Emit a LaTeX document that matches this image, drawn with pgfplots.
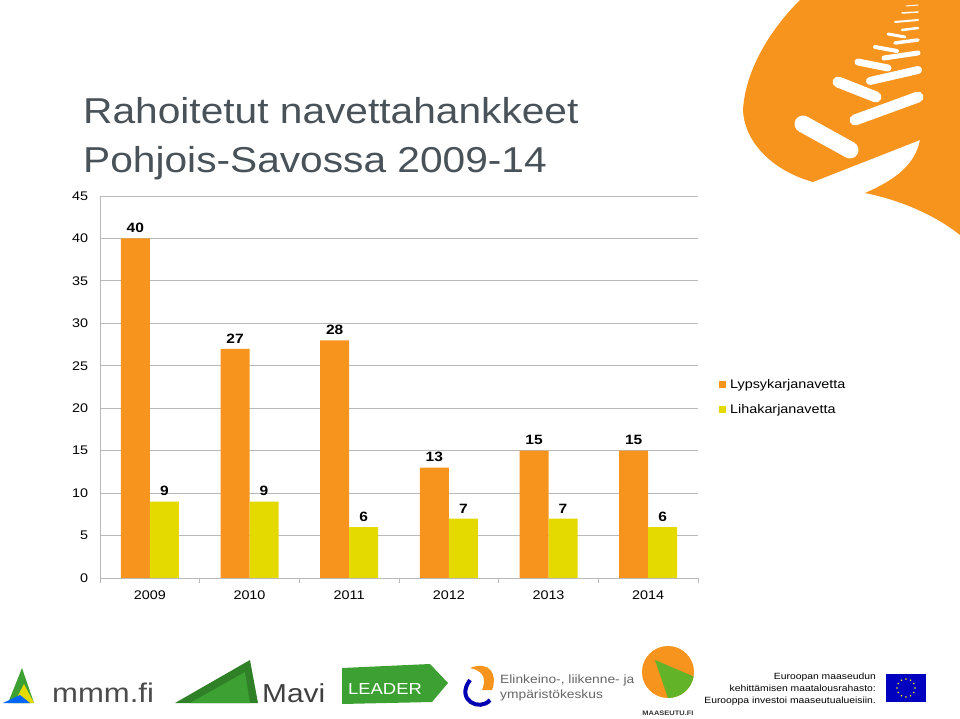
\documentclass[border=0pt]{standalone}
\usepackage{fontspec}
\setmainfont{Liberation Sans}[FakeStretch=1.15]
\newfontfamily\titlefont{Liberation Sans}[FakeStretch=1.13]
\usepackage{pgfplots}
\pgfplotsset{compat=1.18}
\definecolor{orng}{RGB}{247,148,30}
\definecolor{yel}{RGB}{228,218,0}
\definecolor{gridc}{RGB}{185,185,185}
\definecolor{titlec}{RGB}{72,82,88}
\definecolor{logog}{RGB}{60,160,50}
\begin{document}
\begin{tikzpicture}[x=1pt,y=1pt]
\path[use as bounding box] (0,0) rectangle (960,718);
% decorative swoosh (top right)
\begin{scope}[yshift=718pt,y=-1pt]
\fill[orng] (800,0) .. controls (765,35) and (745,75) .. (743,110)
  .. controls (744,140) and (770,170) .. (813,182)
  -- (920,140) .. controls (915,165) and (895,180) .. (865,193)
  .. controls (900,200) and (935,215) .. (960,235) -- (960,0) -- cycle;
\draw[white,line cap=round,line width=17pt] (803,124) -- (850,150);
\draw[white,line cap=round,line width=11pt] (855,120) -- (918,97);
\draw[white,line cap=round,line width=11pt] (838,82) -- (876,97);
\draw[white,line cap=round,line width=8pt] (870,81) -- (918,70);
\draw[white,line cap=round,line width=7pt] (858,62) -- (888,68);
\draw[white,line cap=round,line width=5pt] (884,58) -- (918,53);
\draw[white,line cap=round,line width=4pt] (875,47) -- (897,51);
\draw[white,line cap=round,line width=3.5pt] (895,43) -- (918,40);
\draw[white,line cap=round,line width=3pt] (888,34) -- (905,37);
\draw[white,line cap=round,line width=2.5pt] (902,30) -- (918,28);
\draw[white,line cap=round,line width=2pt] (895,22) -- (918,20);
\draw[white,line cap=round,line width=1.5pt] (902,13) -- (918,12);
\draw[white,line cap=round,line width=1pt] (906,6) -- (918,5);
% title
\node[anchor=base west,text=titlec,font=\titlefont\fontsize{36}{36}\selectfont,inner sep=0pt] at (83,124) {Rahoitetut navettahankkeet};
\node[anchor=base west,text=titlec,font=\titlefont\fontsize{36}{36}\selectfont,inner sep=0pt] at (83,173) {Pohjois-Savossa 2009-14};
% logos (approximate)
\fill[logog] (8,703) -- (22,668) -- (34,703) -- cycle;
\fill[yel] (14,703) -- (24,684) -- (34,703) -- cycle;
\fill[blue!60!cyan] (3,703) -- (20,695) -- (30,703) -- cycle;
\node[anchor=base west,text=black!70,font=\fontsize{27}{27}\selectfont,inner sep=0pt] at (52,702) {mmm.fi};
\fill[logog!80!black] (175,703) -- (250,660) -- (258,703) -- cycle;
\fill[logog] (190,703) -- (245,672) -- (250,703) -- cycle;
\node[anchor=base west,text=black!75,font=\fontsize{26}{26}\selectfont,inner sep=0pt] at (262,702) {Mavi};
\fill[logog] (342,668) -- (430,664) -- (448,683) -- (432,702) -- (342,704) -- cycle;
\node[anchor=base west,text=white,font=\fontsize{16}{16}\selectfont,inner sep=0pt] at (348,694) {LEADER};
\fill[orng] (470,668) .. controls (490,660) and (498,675) .. (492,690) -- (482,690) .. controls (488,676) and (480,670) .. cycle;
\draw[blue!70!black,line width=4pt] (470,680) .. controls (455,700) and (480,712) .. (490,700);
\node[anchor=base west,text=black!60,font=\fontsize{12}{12}\selectfont,inner sep=0pt] at (500,683) {Elinkeino-, liikenne- ja};
\node[anchor=base west,text=black!60,font=\fontsize{12}{12}\selectfont,inner sep=0pt] at (500,698) {ympäristökeskus};
\fill[orng] (668,672) circle (26);
\fill[logog!80!yellow] (668,672) ++(0,26) arc (90:10:26) -- (655,660) -- cycle;
\node[anchor=base,text=black!80,font=\bfseries\fontsize{6.5}{6.5}\selectfont,inner sep=0pt] at (668,715) {MAASEUTU.FI};
\node[anchor=base east,text=black,font=\fontsize{9}{9}\selectfont,inner sep=0pt] at (876,679) {Euroopan maaseudun};
\node[anchor=base east,text=black,font=\fontsize{9}{9}\selectfont,inner sep=0pt] at (876,691) {kehittämisen maatalousrahasto:};
\node[anchor=base east,text=black,font=\fontsize{9}{9}\selectfont,inner sep=0pt] at (876,703) {Eurooppa investoi maaseutualueisiin.};
\fill[blue!75!black] (886,674) rectangle (926,702);
\foreach \a in {0,30,...,330} \fill[yellow] (906,688) ++(\a:9) circle (0.9);
\end{scope}
\begin{axis}[
  at={(100pt,522pt)}, anchor=north west, scale only axis,
  width=598pt, height=382pt,
  ymin=0, ymax=45, ytick={0,5,...,45},
  xmin=-0.5, xmax=5.5,
  xtick={0,...,5}, xticklabels={2009,2010,2011,2012,2013,2014},
  minor xtick={-0.5,0.5,...,5.5},
  major x tick style={draw=none},
  minor tick length=5pt, tick align=outside,
  minor x tick style={gridc,line width=0.8pt},
  ytick style={draw=none},
  axis x line*=bottom, axis y line*=left,
  axis line style={gridc,line width=0.8pt},
  ymajorgrids, grid style={gridc,line width=0.8pt},
  ybar=0pt, bar width=29pt,
  tick label style={font=\fontsize{12.5}{12.5}\selectfont,text=black},
  /pgf/number format/assume math mode=true,
  yticklabel style={xshift=-4pt},
  xticklabel style={yshift=-5pt},
  nodes near coords,
  every node near coord/.append style={font=\bfseries\fontsize{13.5}{13.5}\selectfont,text=black,yshift=2pt},
  legend style={at={(1.03,0.532)},anchor=north west,draw=none,fill=none,
     font=\fontsize{12.5}{12.5}\selectfont,row sep=11pt,
     /tikz/every odd column/.append style={column sep=2pt}},
  legend cell align=left,
  legend image code/.code={\fill[#1,draw=none] (0pt,-3.5pt) rectangle (7pt,3.5pt);},
]
\addplot[fill=orng,draw=none] coordinates {(0,40) (1,27) (2,28) (3,13) (4,15) (5,15)};
\addplot[fill=yel,draw=none] coordinates {(0,9) (1,9) (2,6) (3,7) (4,7) (5,6)};
\legend{Lypsykarjanavetta,Lihakarjanavetta}
\end{axis}
\end{tikzpicture}
\end{document}
